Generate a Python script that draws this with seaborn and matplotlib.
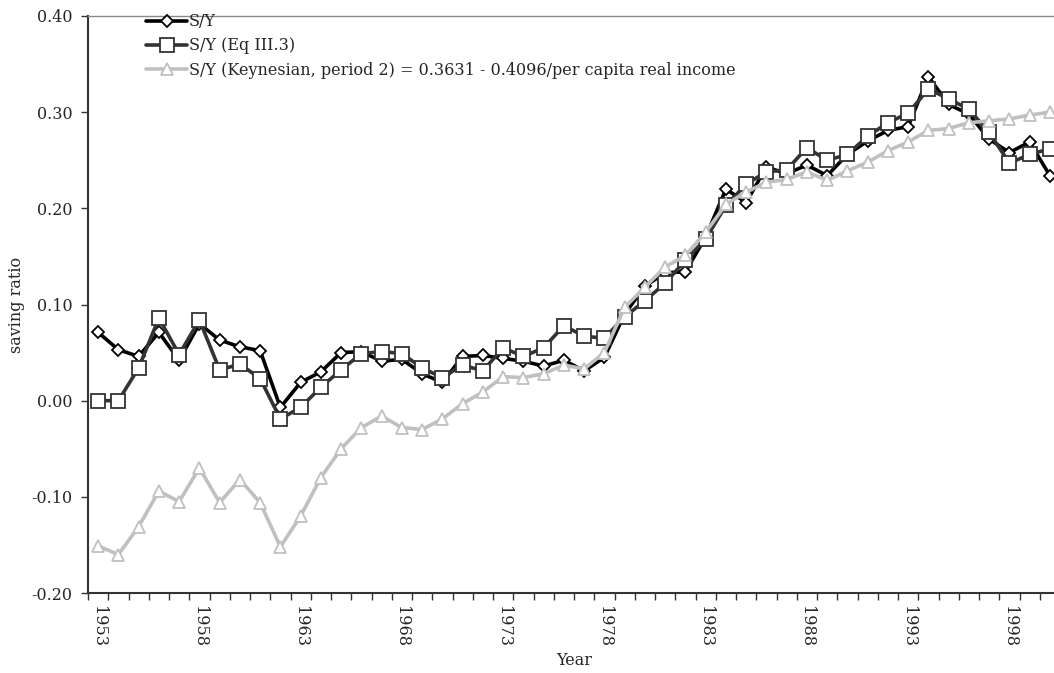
import numpy as np
import pandas as pd
import matplotlib
matplotlib.use("Agg")
import matplotlib.pyplot as plt
import seaborn as sns
from matplotlib.ticker import FixedLocator, FuncFormatter

years = list(range(1953, 2001))

sy = [0.071, 0.053, 0.046, 0.071, 0.042, 0.080, 0.063, 0.056, 0.052, -0.007,
      0.019, 0.030, 0.050, 0.051, 0.041, 0.043, 0.028, 0.019, 0.046, 0.047,
      0.044, 0.041, 0.036, 0.042, 0.031, 0.045, 0.090, 0.119, 0.133, 0.134,
      0.170, 0.220, 0.206, 0.243, 0.236, 0.245, 0.234, 0.256, 0.270, 0.281,
      0.285, 0.337, 0.308, 0.298, 0.272, 0.258, 0.269, 0.234]

sy_eq = [0.000, 0.000, 0.034, 0.086, 0.048, 0.084, 0.032, 0.038, 0.023, -0.019,
         -0.007, 0.014, 0.032, 0.049, 0.051, 0.049, 0.034, 0.024, 0.037, 0.031,
         0.055, 0.046, 0.055, 0.078, 0.067, 0.065, 0.087, 0.104, 0.122, 0.146,
         0.168, 0.203, 0.225, 0.238, 0.240, 0.263, 0.250, 0.256, 0.275, 0.289,
         0.299, 0.324, 0.314, 0.303, 0.279, 0.247, 0.256, 0.262]

sy_key = [-0.151, -0.160, -0.131, -0.094, -0.105, -0.070, -0.106, -0.082, -0.106, -0.152,
          -0.120, -0.080, -0.050, -0.028, -0.016, -0.028, -0.030, -0.019, -0.003, 0.009,
          0.025, 0.024, 0.028, 0.037, 0.033, 0.050, 0.097, 0.118, 0.139, 0.151,
          0.175, 0.204, 0.217, 0.227, 0.230, 0.238, 0.229, 0.239, 0.248, 0.260,
          0.269, 0.281, 0.283, 0.289, 0.291, 0.293, 0.297, 0.300]

labels = ["S/Y", "S/Y (Eq III.3)",
          "S/Y (Keynesian, period 2) = 0.3631 - 0.4096/per capita real income"]

sns.set_theme(style="white")
plt.rcParams['font.family'] = ['DejaVu Serif', 'Liberation Serif']
FS = 11.5

fig = plt.figure(figsize=(10.54, 6.73), dpi=100)
ax = fig.add_axes([88/1054, 80/673, (1060-88)/1054, (593-16)/673])

pos = np.arange(len(years))
df = pd.DataFrame({"pos": pos, "sy": sy, "sy_eq": sy_eq, "sy_key": sy_key})

sns.lineplot(data=df, x="pos", y="sy", ax=ax, color="black", linewidth=2.6,
             marker="D", markersize=6.5, markerfacecolor="white",
             markeredgecolor="black", markeredgewidth=1.3, label=labels[0], zorder=3)
sns.lineplot(data=df, x="pos", y="sy_eq", ax=ax, color="#333333", linewidth=2.6,
             marker="s", markersize=9.5, markerfacecolor="white",
             markeredgecolor="#333333", markeredgewidth=1.3, label=labels[1], zorder=4)
sns.lineplot(data=df, x="pos", y="sy_key", ax=ax, color="#c0c0c0", linewidth=2.6,
             marker="^", markersize=8.5, markerfacecolor="white",
             markeredgecolor="#c0c0c0", markeredgewidth=1.3, label=labels[2], zorder=5)

ax.set_xlim(-0.5, len(years) - 0.5)
ax.set_ylim(-0.2, 0.4)

ax.yaxis.set_major_locator(FixedLocator(np.arange(-0.2, 0.41, 0.1)))
ax.yaxis.set_major_formatter(FuncFormatter(lambda v, p: f"{v:.2f}"))

ax.xaxis.set_major_locator(FixedLocator(pos[::5]))
ax.set_xticklabels([str(y) for y in years[::5]], rotation=270)
ax.xaxis.set_minor_locator(FixedLocator(np.arange(-0.5, len(years), 1.0)))
ax.tick_params(axis="x", which="major", length=0, pad=9, labelsize=FS)
ax.tick_params(axis="x", which="minor", length=5, width=1, color="#333333",
               direction="out", bottom=True)
ax.tick_params(axis="y", which="major", length=5, width=1, color="#333333",
               direction="out", left=True, labelsize=FS, pad=6)

for s in ["left", "bottom"]:
    ax.spines[s].set_color("#333333")
    ax.spines[s].set_linewidth(1.5)
ax.spines["top"].set_color("#888888")
ax.spines["top"].set_linewidth(1.0)
ax.spines["right"].set_color("#888888")

ax.set_xlabel("Year", fontsize=FS, labelpad=4)
ax.set_ylabel("saving ratio", fontsize=FS, labelpad=5)
ax.grid(False)

leg = ax.legend(loc="upper left", bbox_to_anchor=(0.053, 1.016), frameon=False,
                fontsize=FS, handlelength=2.6, handletextpad=0.1,
                labelspacing=0.45, borderaxespad=0.0)

fig.savefig("out.png", dpi=100)
